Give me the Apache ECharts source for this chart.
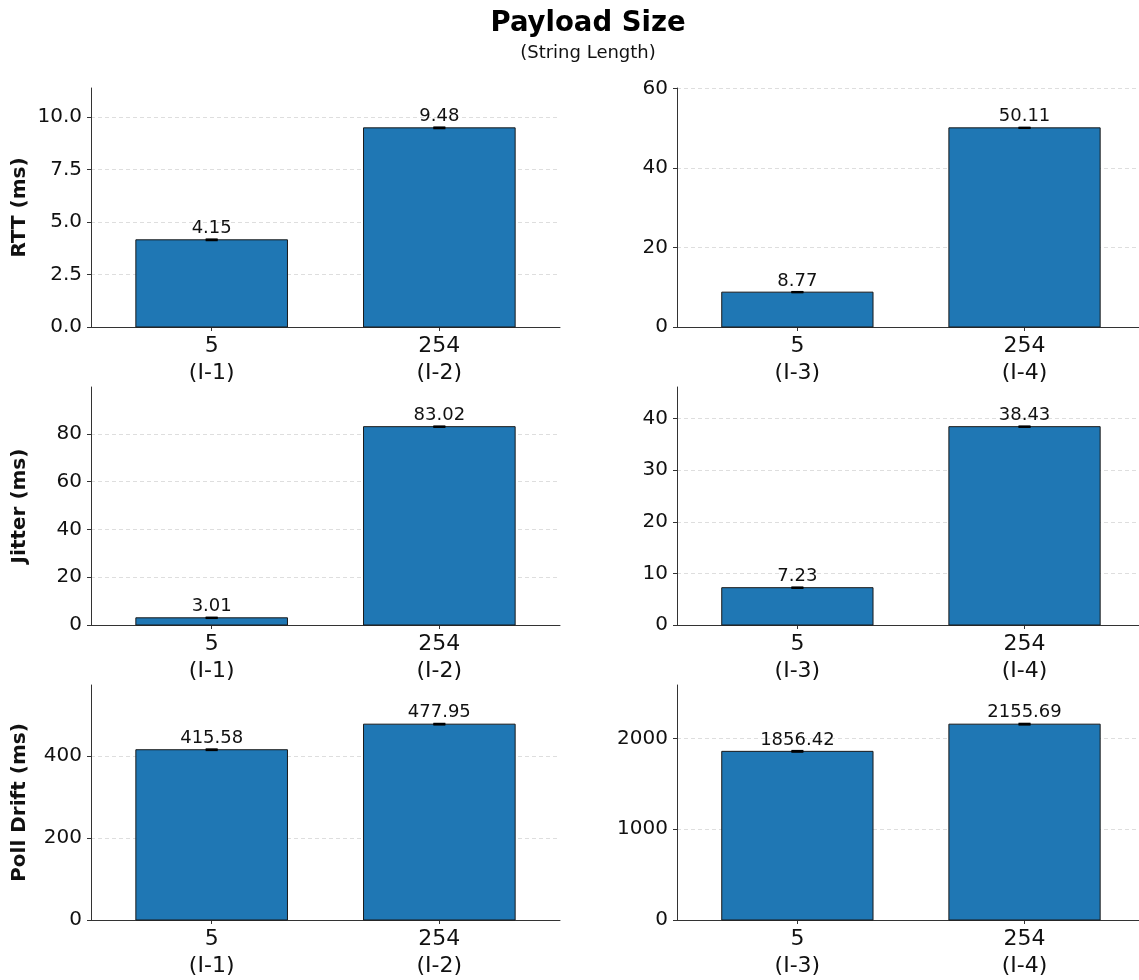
<!DOCTYPE html>
<html>
<head>
<meta charset="utf-8">
<title>Payload Size</title>
<script src="https://cdn.jsdelivr.net/npm/echarts@6/dist/echarts.min.js"></script>
<style>
  html, body { margin: 0; padding: 0; background: #fff; }
  #chart { width: 1139px; height: 980px; }
</style>
</head>
<body>
<div id="chart"></div>
<script>
// Category labels for each column (string length + test id)
const leftCategories = ['5\n(I-1)', '254\n(I-2)'];
const rightCategories = ['5\n(I-3)', '254\n(I-4)'];

// Metric names (row y-axis titles)
const metricNames = ['RTT (ms)', 'Jitter (ms)', 'Poll Drift (ms)'];

// Mean values per panel
const rttLeft = [4.15, 9.48];
const rttRight = [8.77, 50.11];
const jitterLeft = [3.01, 83.02];
const jitterRight = [7.23, 38.43];
const driftLeft = [415.58, 477.95];
const driftRight = [1856.42, 2155.69];

// Error bar half-widths (very small)
const rttLeftErr = [0.02, 0.02];
const rttRightErr = [0.05, 0.05];
const jitterLeftErr = [0.1, 0.1];
const jitterRightErr = [0.05, 0.05];
const driftLeftErr = [1, 1];
const driftRightErr = [5, 5];

// y tick spacing per panel
const yIntervals = [2.5, 20, 20, 10, 200, 1000];
const yDecimals = [1, 0, 0, 0, 0, 0];

const FONT = 'DejaVu Sans';
const BAR_HALF = 0.333;

const panels = [
  { vals: rttLeft, errs: rttLeftErr, cats: leftCategories, name: metricNames[0] },
  { vals: rttRight, errs: rttRightErr, cats: rightCategories, name: '' },
  { vals: jitterLeft, errs: jitterLeftErr, cats: leftCategories, name: metricNames[1] },
  { vals: jitterRight, errs: jitterRightErr, cats: rightCategories, name: '' },
  { vals: driftLeft, errs: driftLeftErr, cats: leftCategories, name: metricNames[2] },
  { vals: driftRight, errs: driftRightErr, cats: rightCategories, name: '' }
];

// column geometry: the right column runs to the canvas edge, so its x range is cut short
const colLeft = [91, 677];
const colRight = [579, 0];
const colXMax = [1.53, 1.504];
const rowTop = [88, 387, 685];
const rowHeight = [239, 238, 237];

function renderBar(params, api) {
  const x = api.value(0), v = api.value(1), e = api.value(2);
  const tl = api.coord([x - BAR_HALF, v]);
  const br = api.coord([x + BAR_HALF, 0]);
  const hi = api.coord([x, v + e]);
  const lo = api.coord([x, v - e]);
  const cx = hi[0];
  return {
    type: 'group',
    children: [
      { type: 'rect', shape: { x: tl[0], y: tl[1], width: br[0] - tl[0], height: br[1] - tl[1] },
        style: { fill: '#1f77b4', stroke: '#1a1a1a', lineWidth: 1 } },
      { type: 'line', shape: { x1: cx, y1: hi[1], x2: cx, y2: lo[1] }, style: { stroke: '#000', lineWidth: 1.5 } },
      { type: 'line', shape: { x1: cx - 6, y1: hi[1], x2: cx + 6, y2: hi[1] }, style: { stroke: '#000', lineWidth: 2 } },
      { type: 'line', shape: { x1: cx - 6, y1: lo[1], x2: cx + 6, y2: lo[1] }, style: { stroke: '#000', lineWidth: 2 } },
      { type: 'text', x: cx, y: hi[1] - 2,
        style: { text: v.toFixed(2), align: 'center', verticalAlign: 'bottom',
                 fontFamily: FONT, fontSize: 18, fill: '#111' } }
    ]
  };
}

const grids = [], xAxes = [], yAxes = [], series = [];
panels.forEach((p, i) => {
  const row = Math.floor(i / 2), col = i % 2;
  grids.push({ left: colLeft[col], right: colRight[col], top: rowTop[row], height: rowHeight[row] });
  const cats = p.cats;
  xAxes.push({
    type: 'value', gridIndex: i, min: -0.53, max: colXMax[col],
    axisLine: { show: true, onZero: false, lineStyle: { color: '#333', width: 1 } },
    axisTick: { show: true, customValues: [0, 1], length: 4, lineStyle: { color: '#333' } },
    axisLabel: { customValues: [0, 1], formatter: v => cats[Math.round(v)],
                 fontFamily: FONT, fontSize: 22, color: '#111', lineHeight: 27, margin: 6 },
    splitLine: { show: false }
  });
  const ymax = Math.max(...p.vals) * 1.2;
  const dec = yDecimals[i];
  yAxes.push({
    type: 'value', gridIndex: i, min: 0, max: ymax, interval: yIntervals[i],
    name: p.name, nameLocation: 'middle', nameGap: 61, nameRotate: 90,
    nameTextStyle: { fontFamily: FONT, fontSize: 20, fontWeight: 'bold', color: '#111' },
    axisLine: { show: true, onZero: false, lineStyle: { color: '#333', width: 1 } },
    axisTick: { show: true, length: 4, lineStyle: { color: '#333' } },
    axisLabel: { showMaxLabel: false, formatter: v => v.toFixed(dec),
                 fontFamily: FONT, fontSize: 20, color: '#111', margin: 9 },
    splitLine: { show: true, showMaxLine: false, showMinLine: false,
                 lineStyle: { color: '#d6d6d6', type: [4, 3], width: 0.8 } }
  });
  series.push({
    type: 'custom', xAxisIndex: i, yAxisIndex: i,
    renderItem: renderBar,
    data: p.vals.map((v, k) => [k, v, p.errs[k]]),
    encode: { x: 0, y: 1 },
    clip: false, silent: true
  });
});

const chart = echarts.init(document.getElementById('chart'), null, { renderer: 'canvas' });
chart.setOption({
  animation: false,
  backgroundColor: '#fff',
  title: {
    text: 'Payload Size', subtext: '(String Length)', left: 583, textAlign: 'center', top: 5,
    itemGap: 6,
    textStyle: { fontFamily: FONT, fontSize: 27.5, fontWeight: 'bold', color: '#000' },
    subtextStyle: { fontFamily: FONT, fontSize: 18, color: '#111' }
  },
  grid: grids,
  xAxis: xAxes,
  yAxis: yAxes,
  series: series
});
</script>
</body>
</html>
